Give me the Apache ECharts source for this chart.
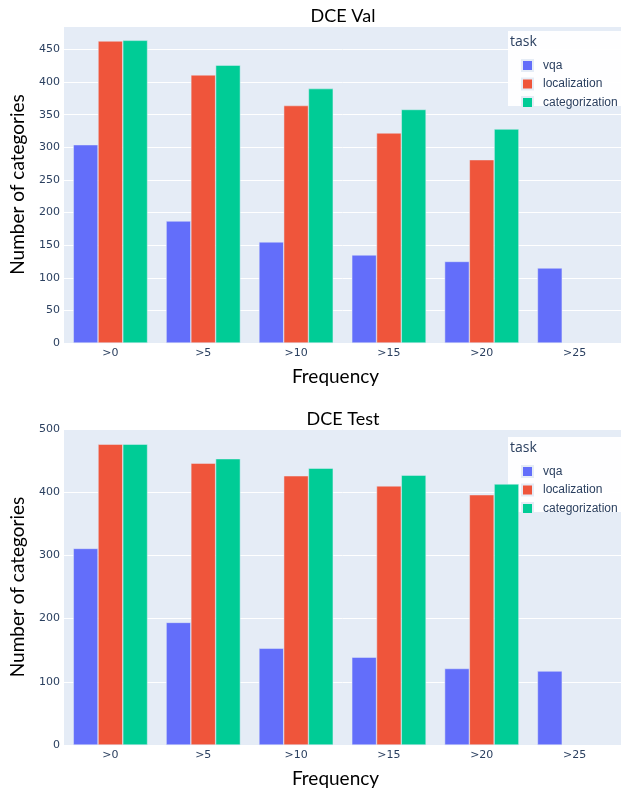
<!DOCTYPE html>
<html><head><meta charset="utf-8">
<script src="https://cdn.jsdelivr.net/npm/echarts@6/dist/echarts.min.js"></script>
<style>html,body{margin:0;padding:0;background:#fff}#c{width:621px;height:789px}</style>
</head><body><div id="c"></div>
<script>
const categories = ['>0','>5','>10','>15','>20','>25'];
const seriesNames = ['vqa','localization','categorization'];
const valVqa = [304, 187, 155, 135, 125, 115];
const valLoc = [463, 411, 364, 322, 281, null];
const valCat = [464, 426, 390, 358, 328, null];
const testVqa = [311, 194, 153, 139, 121, 117];
const testLoc = [476, 446, 426, 410, 396, null];
const testCat = [476, 453, 438, 427, 413, null];
const colors = ['#636efa', '#EF553B', '#00cc96'];

const chart = echarts.init(document.getElementById('c'), null, {renderer: 'canvas'});
const tickStyle = {color: '#2a3f5f', fontFamily: 'DejaVu Sans', fontSize: 11};
const nameFont = {color: '#000', fontFamily: 'Lato', fontSize: 19};

function mkSeries(name, data, idx, ci) {
  return {name: name, type: 'bar', xAxisIndex: idx, yAxisIndex: idx, data: data,
    barGap: '0%', barCategoryGap: '20%',
    itemStyle: {color: colors[ci], borderColor: '#E5ECF6', borderWidth: 0.5}};
}
function legendBox(top) {
  return {type: 'group', left: 508, top: top, z: 10, children: [
    {type: 'rect', shape: {x: 0, y: 0, width: 113, height: 75}, style: {fill: 'rgba(255,255,255,0.95)'}},
    {type: 'text', x: 2, y: 4, style: {text: 'task', fill: '#2a3f5f', font: '14px "Open Sans"'}}
  ]};
}
function mkLegend(top) {
  return {data: seriesNames, orient: 'vertical', left: 516, top: top, itemWidth: 11, itemHeight: 11, z: 20,
    itemGap: 5.5, icon: 'rect', textStyle: {color: '#2a3f5f', fontFamily: 'Liberation Sans', fontSize: 12, padding: [0,0,0,5]}};
}
function yAx(idx, max, interval) {
  return {type: 'value', gridIndex: idx, min: 0, max: max, interval: interval,
    axisLine: {show: false}, axisTick: {show: false},
    axisLabel: Object.assign({margin: 4, showMaxLabel: max % interval === 0,
      formatter: v => (v % interval === 0 ? String(v) : '')}, tickStyle),
    splitLine: {lineStyle: {color: '#ffffff', width: 1}},
    name: 'Number of categories', nameLocation: 'middle', nameGap: 37, nameTextStyle: nameFont};
}
function xAx(idx) {
  return {type: 'category', gridIndex: idx, data: categories,
    axisLine: {show: false}, axisTick: {show: false},
    axisLabel: Object.assign({margin: 5}, tickStyle),
    name: 'Frequency', nameLocation: 'middle', nameGap: 24,
    nameTextStyle: Object.assign({padding: [0, 14, 0, 0]}, nameFont)};
}

chart.setOption({
  animation: false,
  title: [
    {text: 'DCE Val', left: 338, textAlign: 'center', top: 2, textStyle: {color: '#000', fontFamily: 'Lato', fontSize: 18, fontWeight: 'normal'}},
    {text: 'DCE Test', left: 338, textAlign: 'center', top: 405, textStyle: {color: '#000', fontFamily: 'Lato', fontSize: 18, fontWeight: 'normal'}}
  ],
  grid: [
    {left: 64, width: 565, top: 26, height: 317, backgroundColor: '#E5ECF6', show: true, borderWidth: 0},
    {left: 64, width: 565, top: 429, height: 317, backgroundColor: '#E5ECF6', show: true, borderWidth: 0}
  ],
  legend: [mkLegend(54), mkLegend(460)],
  xAxis: [xAx(0), xAx(1)],
  yAxis: [yAx(0, 486, 50), yAx(1, 500, 100)],
  series: [
    mkSeries('vqa', valVqa, 0, 0), mkSeries('localization', valLoc, 0, 1), mkSeries('categorization', valCat, 0, 2),
    mkSeries('vqa', testVqa, 1, 0), mkSeries('localization', testLoc, 1, 1), mkSeries('categorization', testCat, 1, 2)
  ],
  graphic: [legendBox(31), legendBox(437)]
});
</script></body></html>
